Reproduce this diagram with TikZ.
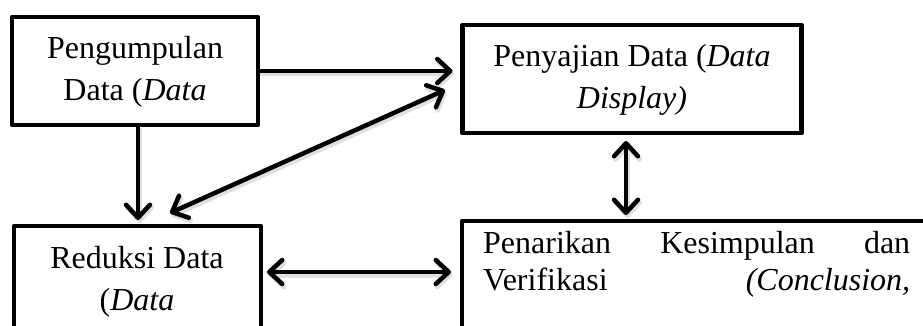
\documentclass[tikz,border=0pt]{standalone}
\usepackage{fontspec}
\setmainfont{Liberation Serif}
\usetikzlibrary{arrows.meta}
\begin{document}
\begin{tikzpicture}[x=1pt,y=-1pt,
  box/.style={draw, line width=4.5pt, line join=round, inner sep=0pt, outer sep=0pt, anchor=north west},
  txt/.style={inner sep=0pt, anchor=north, align=center, font=\fontsize{32}{42}\selectfont},
  tip/.tip={Straight Barb[length=13pt,width=24pt,round]},
  shade/.style={preaction={draw=black!12, line width=5pt, transform canvas={shift={(1.5pt,-3pt)}}}},
  arr/.style={shade, line width=4.5pt, -tip},
  darr/.style={shade, line width=4.5pt, tip-tip},
]
\path[use as bounding box, clip] (0,0) rectangle (923,326);

% boxes
\node[box, minimum width=246pt, minimum height=108pt] (b1) at (12,17) {};
\node[box, minimum width=339pt, minimum height=108pt] (b2) at (462.5,25) {};
\node[box, minimum width=247pt, minimum height=150pt] (b3) at (14,226) {};
\node[box, minimum width=500pt, minimum height=150pt] (b4) at (462,221) {};

% texts
\node[txt] (t1) at (135,36) {Pengumpulan\\Data (\textit{Data}};
\node[txt] (t2) at (632,44) {Penyajian Data (\textit{Data}\\\textit{Display)}};
\node[txt] (t3) at (137,246) {Reduksi Data\\(\textit{Data}};
\node[txt, align=left, anchor=north west, font=\fontsize{32}{37}\selectfont] (t4) at (483,231)
  {\makebox[427pt][s]{Penarikan\hfill Kesimpulan\hfill dan}\\
   \makebox[427pt][s]{Verifikasi\hfill\textit{(Conclusion,}}};

% connectors
\coordinate (d1) at (170,213);
\coordinate (d2) at (445,90);
\draw[arr, shorten >=10pt] (b1.east |- 0,71) -- (b2.west |- 0,71);
\draw[arr, shorten >=6pt] (b1.south -| 138,0) -- (b3.north -| 138,0);
\draw[darr] (d1) -- (d2);
\draw[darr, shorten <=8pt, shorten >=6pt] (b2.south -| 626,0) -- (b4.north -| 626,0);
\draw[darr, shorten <=6pt, shorten >=11pt] (b3.east |- 0,272) -- (b4.west |- 0,272);
\end{tikzpicture}
\end{document}
